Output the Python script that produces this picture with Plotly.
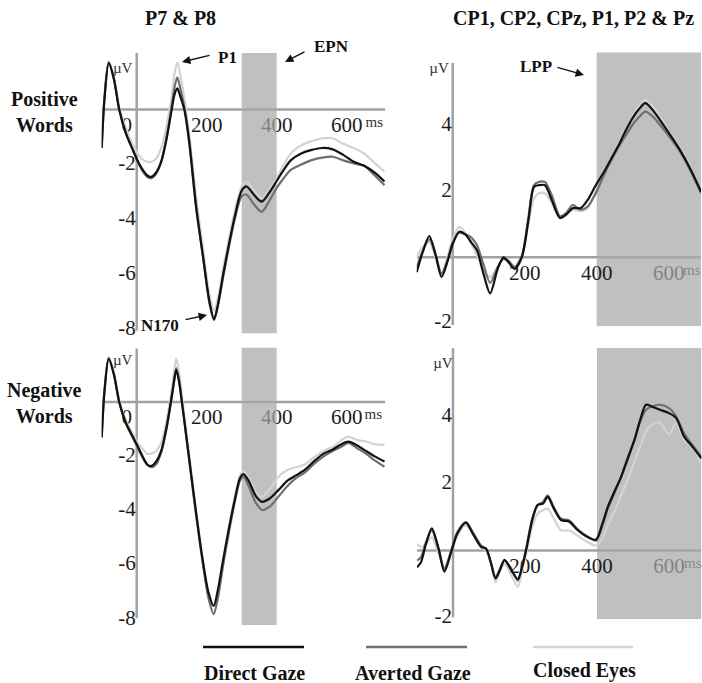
import plotly.graph_objects as go

W, H = 702, 683

# ---------------- data (time in ms, amplitude in µV) ----------------
# P7 & P8, positive words
TL_T = [-100, -92, -80, -65, -50, -30, -10, 0, 15, 30, 42, 55, 70, 85, 100, 108, 116, 124, 136,
        150, 170, 190, 208, 221, 232, 247, 262, 280, 300, 314, 335, 357, 380, 400, 420, 440, 470,
        500, 530, 560, 590, 620, 650, 680, 708]
TL_DIRECT = [-1.4, 0.4, 1.7, 1.1, 0.0, -0.9, -1.5, -1.8, -2.15, -2.4, -2.45, -2.3, -1.9, -1.1, 0.0,
             0.55, 0.77, 0.5, 0.0, -1.2, -3.6, -5.4, -7.0, -7.63, -7.1, -6.0, -5.0, -3.9, -2.95,
             -2.8, -3.1, -3.35, -3.0, -2.6, -2.2, -1.85, -1.6, -1.47, -1.4, -1.45, -1.65, -1.9,
             -2.05, -2.3, -2.62]
TL_AVERTED = [-1.4, 0.4, 1.68, 1.1, 0.0, -0.9, -1.5, -1.8, -2.2, -2.45, -2.5, -2.35, -1.9, -1.0, 0.1,
              0.8, 1.17, 0.8, 0.1, -1.1, -3.5, -5.4, -7.05, -7.65, -7.15, -6.1, -5.1, -4.0, -3.15,
              -3.1, -3.45, -3.72, -3.3, -2.85, -2.5, -2.2, -2.0, -1.84, -1.75, -1.72, -1.85, -1.96,
              -2.05, -2.4, -2.75]
TL_CLOSED = [-1.2, 0.5, 1.75, 1.15, 0.1, -0.7, -1.3, -1.55, -1.8, -1.9, -1.9, -1.8, -1.4, -0.6, 0.5,
             1.3, 1.7, 1.3, 0.4, -0.9, -3.2, -5.1, -6.75, -7.3, -6.85, -5.8, -4.8, -3.7, -2.8,
             -2.62, -2.95, -3.23, -2.9, -2.5, -2.0, -1.6, -1.3, -1.15, -1.05, -1.05, -1.25, -1.4,
             -1.6, -1.95, -2.26]

# P7 & P8, negative words
BL_T = [-100, -92, -80, -65, -50, -30, -10, 0, 15, 30, 42, 55, 70, 85, 100, 106, 113, 121, 129,
        145, 165, 185, 205, 220, 232, 247, 262, 280, 295, 305, 320, 340, 358, 380, 405, 430, 455,
        480, 505, 534, 560, 585, 605, 630, 655, 680, 708]
BL_DIRECT = [-1.3, 0.4, 1.6, 1.0, 0.0, -0.8, -1.3, -1.55, -1.95, -2.3, -2.35, -2.2, -1.8, -0.95, 0.2,
             0.7, 1.18, 0.75, 0.0, -1.6, -3.6, -5.5, -7.0, -7.5, -6.9, -5.8, -4.75, -3.6, -2.8,
             -2.65, -2.9, -3.45, -3.67, -3.55, -3.24, -2.9, -2.7, -2.5, -2.2, -1.9, -1.75, -1.55,
             -1.46, -1.6, -1.8, -2.0, -2.19]
BL_AVERTED = [-1.3, 0.4, 1.6, 1.0, 0.0, -0.8, -1.35, -1.6, -2.0, -2.3, -2.4, -2.3, -1.85, -1.0, 0.15,
              0.7, 1.25, 0.8, 0.05, -1.6, -3.7, -5.6, -7.2, -7.8, -7.2, -6.0, -4.9, -3.7, -2.9,
              -2.75, -3.1, -3.7, -3.97, -3.85, -3.48, -3.1, -2.8, -2.6, -2.3, -2.0, -1.8, -1.65,
              -1.5, -1.7, -1.9, -2.15, -2.38]
BL_CLOSED = [-1.1, 0.5, 1.65, 1.1, 0.1, -0.7, -1.2, -1.45, -1.7, -1.9, -1.9, -1.8, -1.5, -0.7, 0.45,
             1.05, 1.6, 1.1, 0.25, -1.4, -3.5, -5.5, -7.2, -7.77, -7.2, -5.9, -4.7, -3.5, -2.7,
             -2.55, -2.8, -3.3, -3.48, -3.2, -2.75, -2.5, -2.4, -2.3, -2.05, -1.8, -1.65, -1.4,
             -1.27, -1.4, -1.45, -1.55, -1.58]

# CP1, CP2, CPz, P1, P2 & Pz, positive words
TR_T = [-100, -85, -65, -48, -31, -15, 0, 18, 35, 52, 68, 85, 104, 125, 141, 155, 172, 192, 210,
        226, 240, 256, 275, 298, 315, 334, 355, 375, 395, 420, 440, 460, 480, 500, 520, 535, 555,
        575, 600, 630, 660, 690]
TR_DIRECT = [-0.45, 0.1, 0.65, 0.1, -0.6, -0.15, 0.4, 0.78, 0.7, 0.45, 0.2, -0.48, -1.1, -0.35, 0.0,
             -0.15, -0.35, 0.0, 1.1, 2.15, 2.2, 2.2, 1.75, 1.2, 1.3, 1.5, 1.5, 1.75, 2.15, 2.6,
             3.0, 3.4, 3.85, 4.25, 4.55, 4.7, 4.5, 4.2, 3.8, 3.3, 2.7, 2.0]
TR_AVERTED = [-0.3, 0.15, 0.55, 0.1, -0.5, -0.1, 0.45, 0.75, 0.7, 0.6, 0.35, -0.2, -0.78, -0.3, -0.05,
              -0.1, -0.3, 0.05, 1.2, 2.2, 2.3, 2.3, 1.9, 1.25, 1.35, 1.6, 1.45, 1.55, 1.9, 2.5,
              2.95, 3.35, 3.7, 4.05, 4.3, 4.44, 4.3, 4.05, 3.7, 3.25, 2.65, 1.95]
TR_CLOSED = [0.0, 0.3, 0.45, 0.0, -0.5, 0.0, 0.55, 0.93, 0.75, 0.4, 0.05, -0.4, -0.6, -0.3, -0.05,
             -0.15, -0.3, 0.0, 1.0, 1.8, 1.95, 1.95, 1.65, 1.2, 1.3, 1.45, 1.4, 1.5, 1.95, 2.55,
             3.0, 3.45, 3.9, 4.3, 4.65, 4.8, 4.6, 4.3, 3.85, 3.35, 2.75, 1.95]

# CP1, CP2, CPz, P1, P2 & Pz, negative words
BR_T = [-100, -89, -75, -59, -40, -24, -5, 12, 36, 55, 78, 92, 105, 118, 130, 143, 160, 180, 192,
        203, 220, 235, 250, 263, 280, 300, 323, 345, 374, 397, 415, 430, 450, 467, 485, 504, 520,
        536, 552, 575, 600, 620, 642, 665, 690]
BR_DIRECT = [-0.5, -0.35, 0.2, 0.66, 0.05, -0.63, -0.05, 0.5, 0.83, 0.5, 0.11, 0.05, -0.35, -0.83,
             -0.6, -0.28, -0.55, -0.85, -0.5, 0.0, 0.9, 1.36, 1.4, 1.6, 1.25, 0.91, 0.86, 0.62,
             0.4, 0.32, 0.8, 1.3, 1.8, 2.2, 2.75, 3.3, 3.9, 4.35, 4.3, 4.2, 4.1, 3.95, 3.4, 3.1, 2.75]
BR_AVERTED = [-0.3, -0.2, 0.25, 0.6, 0.05, -0.55, 0.0, 0.55, 0.85, 0.55, 0.15, 0.05, -0.35, -0.8,
              -0.55, -0.3, -0.5, -0.9, -0.45, 0.05, 0.95, 1.35, 1.45, 1.65, 1.3, 0.95, 0.9, 0.65,
              0.42, 0.3, 0.75, 1.25, 1.75, 2.2, 2.7, 3.3, 3.85, 4.2, 4.3, 4.35, 4.25, 4.0, 3.5,
              3.15, 2.8]
BR_CLOSED = [0.2, 0.1, 0.2, 0.4, -0.1, -0.5, -0.05, 0.45, 0.75, 0.5, 0.1, 0.0, -0.4, -0.95, -0.6,
             -0.4, -0.7, -1.08, -0.6, -0.1, 0.7, 1.1, 1.2, 1.25, 0.95, 0.6, 0.6, 0.45, 0.25, 0.15,
             0.35, 0.75, 1.2, 1.65, 2.1, 2.65, 3.1, 3.55, 3.75, 3.82, 3.45, 3.82, 3.3, 3.1, 2.6]

# analysis windows (ms)
EPN_WINDOW = [300, 400]
LPP_WINDOW = [400, 690]

# tick labels
LEFT_XTICKS = [0, 200, 400, 600]
RIGHT_XTICKS = [200, 400, 600]
LEFT_YTICKS = [-2, -4, -6, -8]
RIGHT_YTICKS = [4, 2, -2]

CONDITIONS = ["Direct Gaze", "Averted Gaze", "Closed Eyes"]

# ---------------- styling ----------------
FONT = "Liberation Serif"
COLORS = {"Direct Gaze": "#121212", "Averted Gaze": "#6f6f6f", "Closed Eyes": "#d3d3d3"}
AXIS_C = "#a2a2a2"
BAND_FILL = "rgba(168,168,168,0.72)"
TEXT_C = "#1c1c1c"
TICK_SIZE = 21


def px_x(x):
    return x / W


def px_y(y):
    return 1 - y / H


panels = [
    dict(t=TL_T, series=[TL_DIRECT, TL_AVERTED, TL_CLOSED], band=EPN_WINDOW,
         xr=[-100, 710], yr=[-8.15, 2.05], box=(101.7, 385.2, 53.1, 333.6),
         vaxis=(2.05, -8.05), xt=LEFT_XTICKS, yt=LEFT_YTICKS, uv=(-40, 16), ms=679,
         above_band=[]),
    dict(t=TR_T, series=[TR_DIRECT, TR_AVERTED, TR_CLOSED], band=LPP_WINDOW,
         xr=[-100, 690], yr=[-2.1, 6.25], box=(416.7, 701.1, 52.3, 326.2),
         vaxis=(5.92, -2.06), xt=RIGHT_XTICKS, yt=RIGHT_YTICKS, uv=(-38, 17), ms=664,
         above_band=[400]),
    dict(t=BL_T, series=[BL_DIRECT, BL_AVERTED, BL_CLOSED], band=EPN_WINDOW,
         xr=[-100, 710], yr=[-8.2, 2.0], box=(101.7, 385.2, 347.6, 625.0),
         vaxis=(1.97, -7.95), xt=LEFT_XTICKS, yt=LEFT_YTICKS, uv=(-40, 14), ms=676,
         above_band=[]),
    dict(t=BR_T, series=[BR_DIRECT, BR_AVERTED, BR_CLOSED], band=LPP_WINDOW,
         xr=[-100, 690], yr=[-2.05, 6.05], box=(417.0, 701.4, 347.8, 619.2),
         vaxis=(6.04, -2.0), xt=RIGHT_XTICKS, yt=RIGHT_YTICKS, uv=(-28, 16), ms=666,
         above_band=[400]),
]

fig = go.Figure()
layout_axes = {}
shapes = []

for i, p in enumerate(panels, start=1):
    xa = "x" if i == 1 else f"x{i}"
    ya = "y" if i == 1 else f"y{i}"
    x0, x1, y0, y1 = p["box"]
    sx = (x1 - x0) / (p["xr"][1] - p["xr"][0])   # px per ms
    sy = (y1 - y0) / (p["yr"][1] - p["yr"][0])   # px per µV

    layout_axes["xaxis" if i == 1 else f"xaxis{i}"] = dict(
        domain=[px_x(x0), px_x(x1)], range=p["xr"], visible=False, anchor=ya, fixedrange=True)
    layout_axes["yaxis" if i == 1 else f"yaxis{i}"] = dict(
        domain=[px_y(y1), px_y(y0)], range=p["yr"], visible=False, anchor=xa, fixedrange=True)

    # axis lines crossing at the origin
    shapes.append(dict(type="line", xref=xa, yref=ya, x0=p["xr"][0], x1=p["xr"][1], y0=0, y1=0,
                       line=dict(color=AXIS_C, width=2.5), layer="below"))
    shapes.append(dict(type="line", xref=xa, yref=ya, x0=0, x1=0, y0=p["vaxis"][0], y1=p["vaxis"][1],
                       line=dict(color=AXIS_C, width=2.5), layer="below"))

    # tick labels (drawn before the shaded window so it tints them)
    lab_y = -17 / sy
    below_x = [v for v in p["xt"] if v not in p["above_band"]]
    xshift = [(-10 / sx if v == 0 else 0) for v in below_x]
    fig.add_trace(go.Scatter(
        x=[v + s for v, s in zip(below_x, xshift)], y=[lab_y] * len(below_x),
        text=[str(v) for v in below_x], mode="text", textposition="middle center",
        textfont=dict(family=FONT, size=TICK_SIZE, color=TEXT_C), xaxis=xa, yaxis=ya,
        hoverinfo="skip", cliponaxis=False, showlegend=False))
    fig.add_trace(go.Scatter(
        x=[-1 / sx] * len(p["yt"]), y=p["yt"], text=[str(v) for v in p["yt"]],
        mode="text", textposition="middle left",
        textfont=dict(family=FONT, size=TICK_SIZE, color=TEXT_C), xaxis=xa, yaxis=ya,
        hoverinfo="skip", cliponaxis=False, showlegend=False))
    fig.add_trace(go.Scatter(
        x=[p["ms"], p["uv"][0]], y=[-13.5 / sy, p["yr"][1] - p["uv"][1] / sy],
        text=["ms", "µV"], mode="text", textposition="middle center",
        textfont=dict(family=FONT, size=15, color="#333333"), xaxis=xa, yaxis=ya,
        hoverinfo="skip", cliponaxis=False, showlegend=False))

    # shaded analysis window
    b0, b1 = p["band"]
    fig.add_trace(go.Scatter(
        x=[b0, b1, b1, b0, b0], y=[p["yr"][0], p["yr"][0], p["yr"][1], p["yr"][1], p["yr"][0]],
        mode="lines", fill="toself", fillcolor=BAND_FILL, line=dict(width=0),
        xaxis=xa, yaxis=ya, hoverinfo="skip", showlegend=False))

    if p["above_band"]:
        fig.add_trace(go.Scatter(
            x=p["above_band"], y=[lab_y] * len(p["above_band"]),
            text=[str(v) for v in p["above_band"]], mode="text", textposition="middle center",
            textfont=dict(family=FONT, size=TICK_SIZE, color=TEXT_C), xaxis=xa, yaxis=ya,
            hoverinfo="skip", cliponaxis=False, showlegend=False))

    # waveforms: closed eyes underneath, direct gaze on top
    for name, vals in reversed(list(zip(CONDITIONS, p["series"]))):
        fig.add_trace(go.Scatter(
            x=p["t"], y=vals, mode="lines", name=name,
            line=dict(color=COLORS[name], width=2.2, shape="spline", smoothing=0.8),
            xaxis=xa, yaxis=ya, showlegend=False))

annotations = []


def label(text, x, y, size=20):
    annotations.append(dict(text=f"<b>{text}</b>", x=px_x(x), y=px_y(y), xref="paper", yref="paper",
                            showarrow=False, xanchor="center", yanchor="middle",
                            font=dict(family=FONT, size=size, color="#111111")))


def arrow(tail, head):
    annotations.append(dict(text="", x=px_x(head[0]), y=px_y(head[1]), xref="paper", yref="paper",
                            ax=tail[0] - head[0], ay=tail[1] - head[1], showarrow=True,
                            arrowhead=2, arrowsize=1.2, arrowwidth=1.4, arrowcolor="#111111"))


label("P7 & P8", 180.5, 18)
label("CP1, CP2, CPz, P1, P2 & Pz", 573, 18)
label("Positive<br>Words", 44.5, 111.7)
label("Negative<br>Words", 44.5, 402.8)

label("P1", 227, 57, 17)
arrow((211, 55), (182, 62))
label("EPN", 331.5, 47, 17)
arrow((306, 51), (285, 62))
label("N170", 159.5, 325, 17)
arrow((184, 320), (207, 315))
label("LPP", 535.7, 66.5, 17)
arrow((556, 67), (584, 75))

# legend
legend_spec = [("Direct Gaze", 203, 304, 254, 673), ("Averted Gaze", 366, 467, 413, 673),
               ("Closed Eyes", 533, 633, 584, 670)]
for name, lx0, lx1, tx, ty in legend_spec:
    shapes.append(dict(type="line", xref="paper", yref="paper", x0=px_x(lx0), x1=px_x(lx1),
                       y0=px_y(647), y1=px_y(647), line=dict(color=COLORS[name], width=2.5)))
    label(name, tx, ty, 20)

fig.update_layout(
    width=W, height=H, autosize=False,
    margin=dict(l=0, r=0, t=0, b=0),
    paper_bgcolor="white", plot_bgcolor="white",
    showlegend=False, shapes=shapes, annotations=annotations,
    **layout_axes,
)

fig.write_html("out.html")
